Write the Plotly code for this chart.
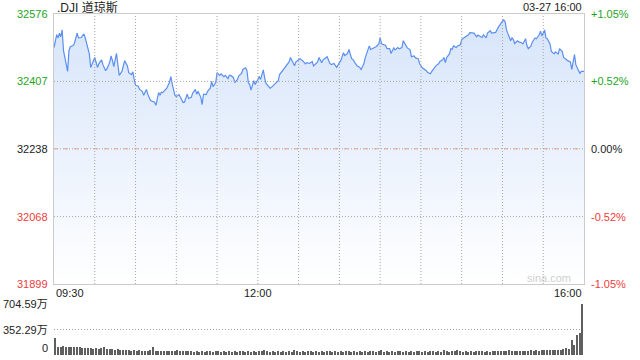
import plotly.graph_objects as go

# ---------------- data ----------------
title_text = ".DJI 道琼斯"
stamp_text = "03-27 16:00"
prev_close = 32238
y_ticks = [32576, 32407, 32238, 32068, 31899]
left_labels = ["32576", "32407", "32238", "32068", "31899"]
right_labels = ["+1.05%", "+0.52%", "0.00%", "-0.52%", "-1.05%"]
x_labels = ["09:30", "12:00", "16:00"]
x_label_minutes = [0, 150, 390]
grid_minutes = list(range(30, 390, 30))
vol_labels = ["704.59万", "352.29万", "0"]
vol_ticks = [704.59, 352.29, 0]

minutes = [0, 2, 3, 4, 5, 6, 7, 8, 10, 11, 12, 14, 15, 17, 18, 20, 22, 23, 25, 26, 27, 29, 30, 32, 33, 35, 36, 38, 39, 41,
           42, 43, 44, 46, 47, 48, 50, 51, 52, 54, 55, 57, 58, 59, 60, 62, 63, 65, 66, 68, 69, 71, 72, 74, 75, 77, 78, 79, 80, 82,
           83, 85, 86, 87, 89, 90, 92, 93, 95, 96, 98, 99, 101, 102, 104, 105, 106, 108, 109, 110, 112, 113, 115, 116, 117, 119, 120, 122, 123, 125,
           126, 128, 129, 130, 131, 132, 133, 135, 136, 138, 139, 141, 142, 143, 144, 145, 147, 148, 150, 151, 152, 154, 155, 156, 158, 159, 160, 162, 163, 165,
           166, 167, 169, 170, 172, 173, 174, 176, 177, 178, 180, 181, 182, 183, 185, 186, 188, 189, 190, 191, 193, 194, 195, 197, 198, 200, 201, 203, 204, 206,
           207, 208, 210, 211, 213, 214, 216, 217, 219, 220, 222, 223, 225, 226, 228, 229, 231, 232, 233, 234, 236, 237, 239, 240, 241, 242, 244, 245, 247, 248,
           250, 251, 253, 254, 256, 257, 259, 260, 262, 263, 265, 266, 268, 269, 271, 272, 274, 275, 277, 278, 280, 281, 283, 284, 286, 287, 288, 289, 291, 292,
           293, 294, 296, 297, 299, 300, 302, 303, 305, 306, 308, 309, 311, 312, 313, 315, 316, 318, 319, 321, 322, 324, 325, 327, 328, 330, 331, 332, 333, 335,
           336, 337, 338, 339, 341, 342, 344, 345, 347, 348, 349, 351, 352, 354, 355, 357, 358, 359, 361, 362, 363, 365, 366, 368, 369, 371, 372, 374, 375, 377,
           378, 380, 381, 383, 384, 386, 387, 388, 390]
prices = [32492, 32524, 32516, 32528, 32519, 32536, 32484, 32467, 32432, 32484, 32494, 32497, 32502, 32528, 32516, 32517, 32526, 32516, 32492, 32476,
          32442, 32459, 32467, 32442, 32451, 32461, 32449, 32434, 32439, 32455, 32471, 32459, 32444, 32477, 32442, 32422, 32432, 32444, 32459, 32446,
          32429, 32424, 32431, 32412, 32397, 32395, 32387, 32382, 32372, 32387, 32375, 32359, 32357, 32355, 32347, 32379, 32372, 32380, 32379, 32385,
          32390, 32405, 32419, 32400, 32372, 32369, 32374, 32367, 32354, 32355, 32375, 32364, 32367, 32377, 32387, 32375, 32382, 32367, 32349, 32375,
          32374, 32382, 32390, 32407, 32394, 32404, 32429, 32422, 32426, 32419, 32422, 32414, 32422, 32422, 32420, 32417, 32404, 32412, 32421, 32427,
          32437, 32441, 32434, 32404, 32399, 32385, 32409, 32399, 32412, 32419, 32412, 32436, 32416, 32402, 32394, 32390, 32392, 32399, 32404, 32409,
          32424, 32429, 32436, 32444, 32451, 32456, 32467, 32452, 32446, 32456, 32462, 32464, 32461, 32459, 32451, 32454, 32452, 32454, 32457, 32446,
          32452, 32456, 32467, 32454, 32461, 32466, 32469, 32452, 32449, 32452, 32446, 32442, 32454, 32459, 32479, 32472, 32477, 32487, 32464, 32462,
          32451, 32446, 32442, 32437, 32451, 32466, 32486, 32496, 32487, 32489, 32491, 32494, 32501, 32516, 32501, 32499, 32497, 32489, 32489, 32477,
          32491, 32486, 32492, 32489, 32492, 32509, 32499, 32491, 32486, 32469, 32471, 32466, 32464, 32452, 32441, 32439, 32434, 32429, 32426, 32432,
          32442, 32446, 32451, 32457, 32461, 32467, 32454, 32467, 32476, 32489, 32487, 32496, 32492, 32496, 32499, 32512, 32517, 32519, 32524, 32529,
          32528, 32528, 32519, 32523, 32521, 32517, 32524, 32516, 32528, 32534, 32528, 32529, 32530, 32543, 32549, 32558, 32561, 32556, 32536, 32517,
          32509, 32516, 32512, 32502, 32509, 32506, 32504, 32501, 32514, 32497, 32489, 32496, 32506, 32516, 32514, 32524, 32533, 32521, 32536, 32516,
          32514, 32501, 32482, 32476, 32481, 32476, 32489, 32482, 32467, 32462, 32459, 32456, 32437, 32474, 32449, 32434, 32427, 32432, 32432]

# volume (万), one bar per two minutes
volume = [235,
          115, 110, 118, 112, 115, 108, 112, 105, 110, 102,
          95, 92, 98, 88, 90, 85, 92,
          110,
          82, 78, 85, 75, 80, 72, 76,
          65, 70, 62, 68, 60, 64, 58, 62, 60, 66,
          105,
          58, 55, 60, 52, 57, 54, 58, 50,
          74,
          55, 52, 56, 50,
          50, 48, 55, 46, 52, 47, 50, 53, 45, 49, 51, 46, 55, 48, 50, 44, 52, 47, 60, 49, 46, 50, 48, 52, 47, 51, 49,
          75,
          51, 46, 53, 48, 50, 45, 52, 47, 49, 46,
          68,
          50, 47, 52, 45, 49, 51, 46, 53, 48, 50, 44, 49, 52, 46, 50, 47, 51, 45, 49,
          62,
          48, 51, 46, 50, 47, 52, 45, 49, 51, 47, 50,
          70,
          48, 52, 46, 50, 47, 49, 53, 45, 50, 48, 51, 46, 49, 52, 47, 50, 46, 49, 51, 48, 52, 47,
          72,
          50, 48, 52, 49,
          75,
          50, 47, 52, 48, 51, 46, 53, 49, 50, 47, 52, 48, 55, 50, 53, 49, 56, 51,
          72,
          55, 58, 54, 60, 57, 62, 58, 63, 60, 66, 62, 68, 64, 70, 66, 72, 68, 75,
          68, 78, 90,
          80, 205, 140, 272, 300, 704.59]
vol_minutes = list(range(1, 2 * len(volume), 2))

# ---------------- style ----------------
W, H = 640, 360
L, R = 54, 584
TOP, BOT = 14, 284
VTOP, VBOT = 304, 355
GREEN = "#1ea51e"
RED = "#f03c3c"
FONT = "Liberation Sans, Arial, Noto Sans CJK SC, sans-serif"
LINE = "#5b8ff0"
GRID = "#a6a6a6"
DOT = "1px,2px"


def px(xp):
    return xp / W


def py(yp):
    return 1 - yp / H


def col(i):
    if i < 2:
        return GREEN
    if i == 2:
        return "#222222"
    return RED


fig = go.Figure()

fig.add_trace(go.Scatter(
    x=minutes, y=prices, mode="lines",
    line=dict(color=LINE, width=1.2),
    fill="tozeroy",
    fillgradient=dict(type="vertical",
                      colorscale=[[0, "rgba(255,255,255,1)"], [1, "rgba(214,228,250,1)"]],
                      start=y_ticks[-1], stop=y_ticks[0]),
    hoverinfo="skip", xaxis="x", yaxis="y"))

fig.add_trace(go.Bar(
    x=vol_minutes, y=volume, marker=dict(color="#5f5f5f", line=dict(width=0)),
    width=1.0, hoverinfo="skip", xaxis="x2", yaxis="y2"))

fig.update_layout(
    width=W, height=H, margin=dict(l=0, r=0, t=0, b=0),
    paper_bgcolor="white", plot_bgcolor="rgba(0,0,0,0)",
    showlegend=False, bargap=0,
    font=dict(family=FONT, size=11, color="#222"),
    xaxis=dict(domain=[px(L), px(R)], range=[0, 390],
               showticklabels=False, ticks="", showgrid=False,
               showline=True, linecolor="#cccccc", linewidth=1, mirror=True,
               zeroline=False, anchor="y"),
    yaxis=dict(domain=[py(BOT), py(TOP)], range=[y_ticks[-1], y_ticks[0]],
               showticklabels=False, ticks="", showgrid=False,
               showline=True, linecolor="#cccccc", linewidth=1, mirror=True,
               zeroline=False, anchor="x"),
    xaxis2=dict(domain=[px(L), px(R)], range=[0, 390], showticklabels=False,
                showgrid=False, zeroline=False, showline=False, anchor="y2"),
    yaxis2=dict(domain=[py(VBOT), py(VTOP)], range=[0, vol_ticks[0]],
                tickvals=vol_ticks[:2], showticklabels=False, ticks="",
                showgrid=True, gridcolor="#a0a0a0", griddash=DOT, gridwidth=1,
                zeroline=False, showline=False, anchor="x2"),
)

shapes = []
for m in grid_minutes:
    shapes.append(dict(type="line", xref="x", yref="y domain", x0=m, x1=m, y0=0, y1=1,
                       line=dict(color=GRID, width=1, dash=DOT), layer="above"))
for i, v in enumerate(y_ticks[1:-1]):
    shapes.append(dict(type="line", xref="x domain", yref="y", x0=0, x1=1, y0=v, y1=v,
                       line=dict(color=GRID, width=1, dash=DOT), layer="above"))
shapes.append(dict(type="line", xref="x domain", yref="y", x0=0, x1=1, y0=prev_close, y1=prev_close,
                   line=dict(color="#e6a487", width=1, dash="4px,6px"), layer="above"))
fig.update_layout(shapes=shapes)

ann = []
for i, (v, lt, rt) in enumerate(zip(y_ticks, left_labels, right_labels)):
    ann.append(dict(x=px(50), xref="paper", y=v, yref="y", text=lt, showarrow=False,
                    xanchor="right", yanchor="middle", font=dict(size=11, color=col(i))))
    ann.append(dict(x=px(589), xref="paper", y=v, yref="y", text=rt, showarrow=False,
                    xanchor="left", yanchor="middle", font=dict(size=11, color=col(i))))

anchors = ["left", "center", "right"]
for lab, m, a in zip(x_labels, x_label_minutes, anchors):
    ann.append(dict(x=m, xref="x", y=py(293), yref="paper", text=lab, showarrow=False,
                    xanchor=a, yanchor="middle", font=dict(size=11, color="#222")))

for lab, v in zip(vol_labels, vol_ticks):
    if v == 0:
        ann.append(dict(x=px(50), xref="paper", y=py(348), yref="paper", text=lab, showarrow=False,
                        xanchor="right", yanchor="middle", font=dict(size=11, color="#222")))
    else:
        ann.append(dict(x=px(50), xref="paper", y=v, yref="y2", text=lab, showarrow=False,
                        xanchor="right", yanchor="middle", font=dict(size=11, color="#222")))

ann.append(dict(x=px(55), xref="paper", y=py(7), yref="paper", text=title_text, showarrow=False,
                xanchor="left", yanchor="middle", font=dict(size=12, color="#222")))
ann.append(dict(x=px(584), xref="paper", y=py(7), yref="paper", text=stamp_text, showarrow=False,
                xanchor="right", yanchor="middle", font=dict(size=11, color="#222")))
ann.append(dict(x=px(573), xref="paper", y=py(278), yref="paper", text="sina.com", showarrow=False,
                xanchor="right", yanchor="middle", font=dict(size=11, color="#d0d0d0")))

fig.update_layout(annotations=ann)
fig.write_html("out.html")
